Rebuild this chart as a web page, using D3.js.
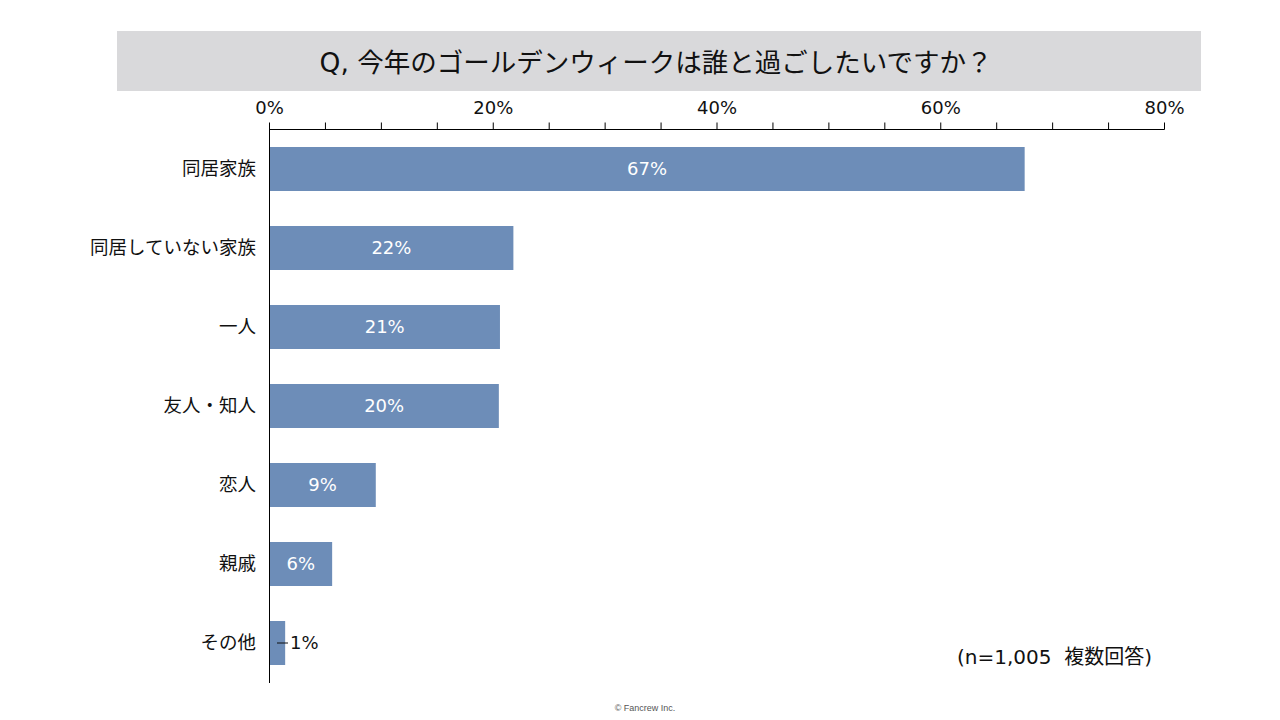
<!DOCTYPE html>
<html><head><meta charset="utf-8">
<script src="https://cdn.jsdelivr.net/npm/d3@7"></script>
<style>body{margin:0;background:#fff;}svg{display:block;}text{white-space:pre;}</style>
</head><body>
<svg id="c" width="1280" height="720"></svg>
<script>
const categories = ["同居家族","同居していない家族","一人","友人・知人","恋人","親戚","その他"];
const values = [67.5, 21.8, 20.6, 20.5, 9.5, 5.6, 1.4];
const labels = ["67%","22%","21%","20%","9%","6%","1%"];
const tickValues = [0,20,40,60,80];
const minorTicks = [0,5,10,15,20,25,30,35,40,45,50,55,60,65,70,75,80];
const title = "Q, 今年のゴールデンウィークは誰と過ごしたいですか？";
const note = "(n=1,005  複数回答)";
const footer = "© Fancrew Inc.";

const font = "'DejaVu Sans','Noto Sans CJK JP',sans-serif";
const svg = d3.select("#c");
svg.append("rect").attr("x",117).attr("y",31).attr("width",1084).attr("height",60).attr("fill","#d9d9db");
svg.append("text").attr("x",656).attr("y",72).attr("text-anchor","middle")
  .attr("font-family",font).attr("font-size",26.5).attr("fill","#111").text(title);

const x = d3.scaleLinear().domain([0,80]).range([269.5,1164.5]);
const y = d3.scaleBand().domain(categories).range([129.5,682.5]).paddingInner(0.443).paddingOuter(0.2215);

// top axis
const ax = svg.append("g").attr("transform","translate(0,129.5)");
ax.append("line").attr("x1",x(0)).attr("x2",x(80)).attr("stroke","#000");
ax.selectAll("line.t").data(minorTicks).join("line").attr("class","t")
  .attr("x1",d=>x(d)).attr("x2",d=>x(d)).attr("y1",0).attr("y2",-7).attr("stroke","#000");
ax.selectAll("text").data(tickValues).join("text")
  .attr("x",d=>x(d)).attr("y",-16).attr("text-anchor","middle")
  .attr("font-family",font).attr("font-size",18).attr("fill","#111").text(d=>d+"%");

// bars
svg.selectAll("rect.bar").data(categories).join("rect").attr("class","bar")
  .attr("x",x(0)).attr("y",d=>y(d)).attr("width",(d,i)=>x(values[i])-x(0)).attr("height",y.bandwidth())
  .attr("fill","#6d8db8");

// left axis line
svg.append("line").attr("x1",269.5).attr("x2",269.5).attr("y1",129).attr("y2",683).attr("stroke","#000");

// category labels
svg.selectAll("text.cat").data(categories).join("text").attr("class","cat")
  .attr("x",256).attr("y",d=>y(d)+y.bandwidth()/2).attr("dy","0.35em").attr("text-anchor","end")
  .attr("font-family","'Noto Sans CJK JP',sans-serif").attr("font-size",18.5).attr("fill","#111").text(d=>d);

// value labels
categories.forEach((c,i)=>{
  const cy = y(c)+y.bandwidth()/2;
  if (i < categories.length-1) {
    svg.append("text").attr("x",(x(0)+x(values[i]))/2).attr("y",cy).attr("dy","0.35em")
      .attr("text-anchor","middle").attr("font-family",font).attr("font-size",18)
      .attr("fill","#fff").text(labels[i]);
  } else {
    svg.append("line").attr("x1",277).attr("x2",288).attr("y1",cy).attr("y2",cy).attr("stroke","#111");
    svg.append("text").attr("x",290).attr("y",cy).attr("dy","0.35em")
      .attr("font-family",font).attr("font-size",18).attr("fill","#111").text(labels[i]);
  }
});

svg.append("text").attr("x",1152).attr("y",664).attr("text-anchor","end")
  .attr("font-family",font).attr("font-size",20).attr("fill","#111").text(note);
svg.append("text").attr("x",645).attr("y",711).attr("text-anchor","middle")
  .attr("font-family","'Liberation Sans',Arial,sans-serif").attr("font-size",9).attr("fill","#555").text(footer);
</script>
</body></html>
